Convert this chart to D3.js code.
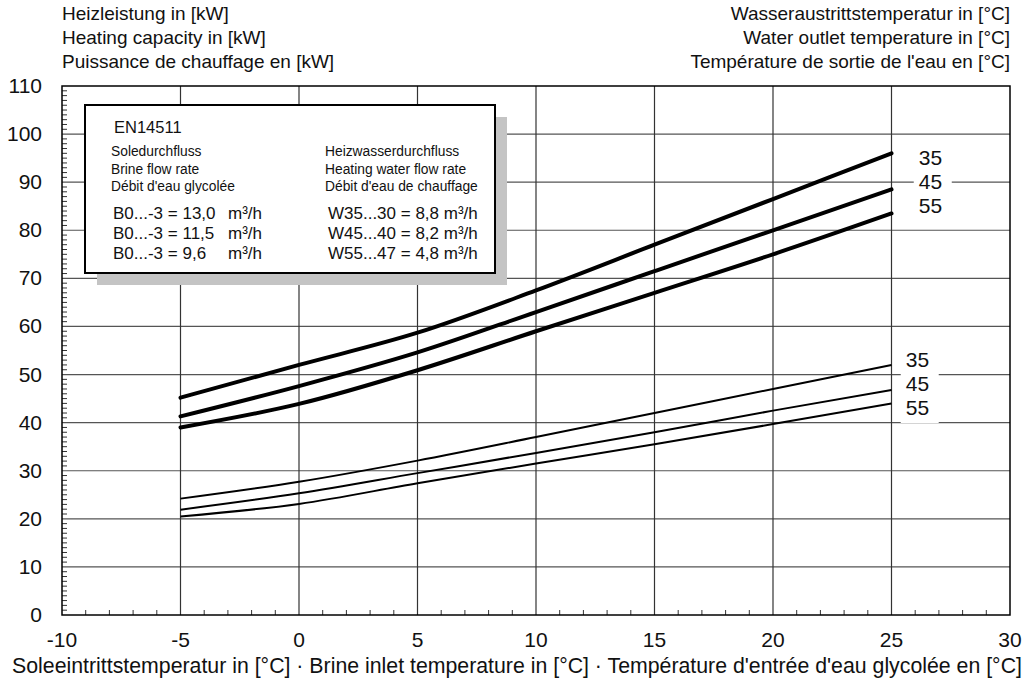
<!DOCTYPE html>
<html>
<head>
<meta charset="utf-8">
<script src="https://cdn.jsdelivr.net/npm/d3@7"></script>
<style>
  body { margin: 0; background: #fff; }
  text { font-family: "Liberation Sans", Arial, sans-serif; fill: #111; }
</style>
</head>
<body>
<div class="chart"></div>
<script>
// brine inlet temperature
const temps = [-5, 0, 5, 10, 15, 20, 25];
// heating capacity, upper group (thick)
const thick35 = [45.2, 52, 58.7, 67.5, 77, 86.5, 96];
const thick45 = [41.3, 47.6, 54.6, 63, 71.5, 80, 88.5];
const thick55 = [39, 43.9, 50.9, 59, 67, 75, 83.5];
// lower group (thin)
const thin35 = [24.2, 27.7, 32.1, 37, 42, 47, 52];
const thin45 = [21.9, 25.3, 29.5, 33.7, 38, 42.5, 46.8];
const thin55 = [20.5, 23.1, 27.4, 31.5, 35.5, 39.7, 44];
const xTicks = [-10, -5, 0, 5, 10, 15, 20, 25, 30];
const yTicks = [0, 10, 20, 30, 40, 50, 60, 70, 80, 90, 100, 110];
const outletLabels = ["35", "45", "55"];

const margin = ({top: 86, right: 23, bottom: 66, left: 62});
const W = 1033, H = 681;
const width = W - margin.left - margin.right,
      height = H - margin.top - margin.bottom;

const xScale = d3.scaleLinear().domain([-10, 30]).range([0, width]);
const yScale = d3.scaleLinear().domain([0, 110]).range([height, 0]);

const svgRoot = d3.select(".chart").append("svg")
    .attr("width", W).attr("height", H);
const svg = svgRoot.append("g")
    .attr("transform", "translate(" + margin.left + "," + margin.top + ")");

// grid
svg.selectAll(".hgrid").data(yTicks.slice(1, -1)).enter().append("line")
    .attr("x1", 0).attr("x2", width)
    .attr("y1", d => yScale(d)).attr("y2", d => yScale(d))
    .attr("stroke", "#555").attr("stroke-width", 1.2);
svg.selectAll(".vgrid").data(xTicks.slice(1, -1)).enter().append("line")
    .attr("y1", 0).attr("y2", height)
    .attr("x1", d => xScale(d)).attr("x2", d => xScale(d))
    .attr("stroke", "#333").attr("stroke-width", 1.2);

// minor ticks (inside)
const yMinor = d3.range(0, 111, 1).filter(v => v % 10 != 0);
const xMinor = d3.range(-10, 31, 1).filter(v => v % 5 != 0);
svg.selectAll(".ym").data(yMinor).enter().append("line")
    .attr("x1", 0).attr("x2", 5)
    .attr("y1", d => yScale(d)).attr("y2", d => yScale(d))
    .attr("stroke", "#333").attr("stroke-width", 1);
svg.selectAll(".xm").data(xMinor).enter().append("line")
    .attr("y1", height).attr("y2", height - 5)
    .attr("x1", d => xScale(d)).attr("x2", d => xScale(d))
    .attr("stroke", "#333").attr("stroke-width", 1);

// frame
svg.append("rect").attr("width", width).attr("height", height)
    .attr("fill", "none").attr("stroke", "#000").attr("stroke-width", 1.5);

// tick labels
svg.selectAll(".ylab").data(yTicks).enter().append("text")
    .attr("x", -20).attr("y", d => yScale(d) + 7)
    .attr("text-anchor", "end").style("font-size", "21px")
    .text(d => d);
svg.selectAll(".xlab").data(xTicks).enter().append("text")
    .attr("x", d => xScale(d)).attr("y", height + 32)
    .attr("text-anchor", "middle").style("font-size", "21px")
    .text(d => d);

// lines
const line = d3.line()
    .x((d, i) => xScale(temps[i]))
    .y(d => yScale(d))
    .curve(d3.curveMonotoneX);

[thick35, thick45, thick55].forEach(s => {
  svg.append("path").datum(s).attr("d", line)
    .attr("fill", "none").attr("stroke", "#000").attr("stroke-width", 4)
    .attr("stroke-linecap", "round");
});
[thin35, thin45, thin55].forEach(s => {
  svg.append("path").datum(s).attr("d", line)
    .attr("fill", "none").attr("stroke", "#000").attr("stroke-width", 2);
});

// outlet temperature labels
function outletGroup(x0, yTop) {
  const g = svg.append("g");
  g.append("rect").attr("x", x0 - 5).attr("y", yTop - 20)
    .attr("width", 38).attr("height", 76).attr("fill", "#fff");
  g.selectAll("text").data(outletLabels).enter().append("text")
    .attr("x", x0).attr("y", (d, i) => yTop + i * 24)
    .style("font-size", "21px").text(d => d);
}
outletGroup(xScale(26.15), 79);
outletGroup(xScale(25.6), 281);

// legend box
const lg = svgRoot.append("g");
lg.append("rect").attr("x", 97).attr("y", 117).attr("width", 410).attr("height", 168)
    .attr("fill", "#c4c4c4");
lg.append("rect").attr("x", 85).attr("y", 105).attr("width", 410).attr("height", 168)
    .attr("fill", "#fff").attr("stroke", "#000").attr("stroke-width", 2);
lg.append("text").attr("x", 114).attr("y", 133).style("font-size", "16.5px").text("EN14511");
const leftHead = ["Soledurchfluss", "Brine flow rate", "Débit d'eau glycolée"];
const rightHead = ["Heizwasserdurchfluss", "Heating water flow rate", "Débit d'eau de chauffage"];
lg.selectAll(".lh").data(leftHead).enter().append("text")
    .attr("x", 111).attr("y", (d, i) => 156 + i * 17.5)
    .style("font-size", "13.8px").text(d => d);
lg.selectAll(".rh").data(rightHead).enter().append("text")
    .attr("x", 325).attr("y", (d, i) => 156 + i * 17.5)
    .style("font-size", "13.8px").text(d => d);
const brineVals = ["13,0", "11,5", "9,6"];
const waterVals = ["W35...30 = 8,8 m³/h", "W45...40 = 8,2 m³/h", "W55...47 = 4,8 m³/h"];
brineVals.forEach((v, i) => {
  lg.append("text").attr("x", 113).attr("y", 219 + i * 20)
    .style("font-size", "17px").text("B0...-3 = " + v);
  lg.append("text").attr("x", 228).attr("y", 219 + i * 20)
    .style("font-size", "17px").text("m³/h");
});
lg.selectAll(".wv").data(waterVals).enter().append("text")
    .attr("x", 328).attr("y", (d, i) => 219 + i * 20)
    .style("font-size", "17px").text(d => d);

// axis titles
const leftTitle = ["Heizleistung in [kW]", "Heating capacity in [kW]", "Puissance de chauffage en [kW]"];
const rightTitle = ["Wasseraustrittstemperatur in [°C]", "Water outlet temperature in [°C]", "Température de sortie de l'eau en [°C]"];
svgRoot.selectAll(".lt").data(leftTitle).enter().append("text")
    .attr("x", 62).attr("y", (d, i) => 20 + i * 24)
    .style("font-size", "19px").text(d => d);
svgRoot.selectAll(".rt").data(rightTitle).enter().append("text")
    .attr("x", 1010).attr("y", (d, i) => 20 + i * 24)
    .attr("text-anchor", "end")
    .style("font-size", "19px").text(d => d);
svgRoot.append("text").attr("x", 517).attr("y", 673)
    .attr("text-anchor", "middle").style("font-size", "21.3px")
    .text("Soleeintrittstemperatur in [°C] · Brine inlet temperature in [°C] · Température d'entrée d'eau glycolée en [°C]");
</script>
</body>
</html>
